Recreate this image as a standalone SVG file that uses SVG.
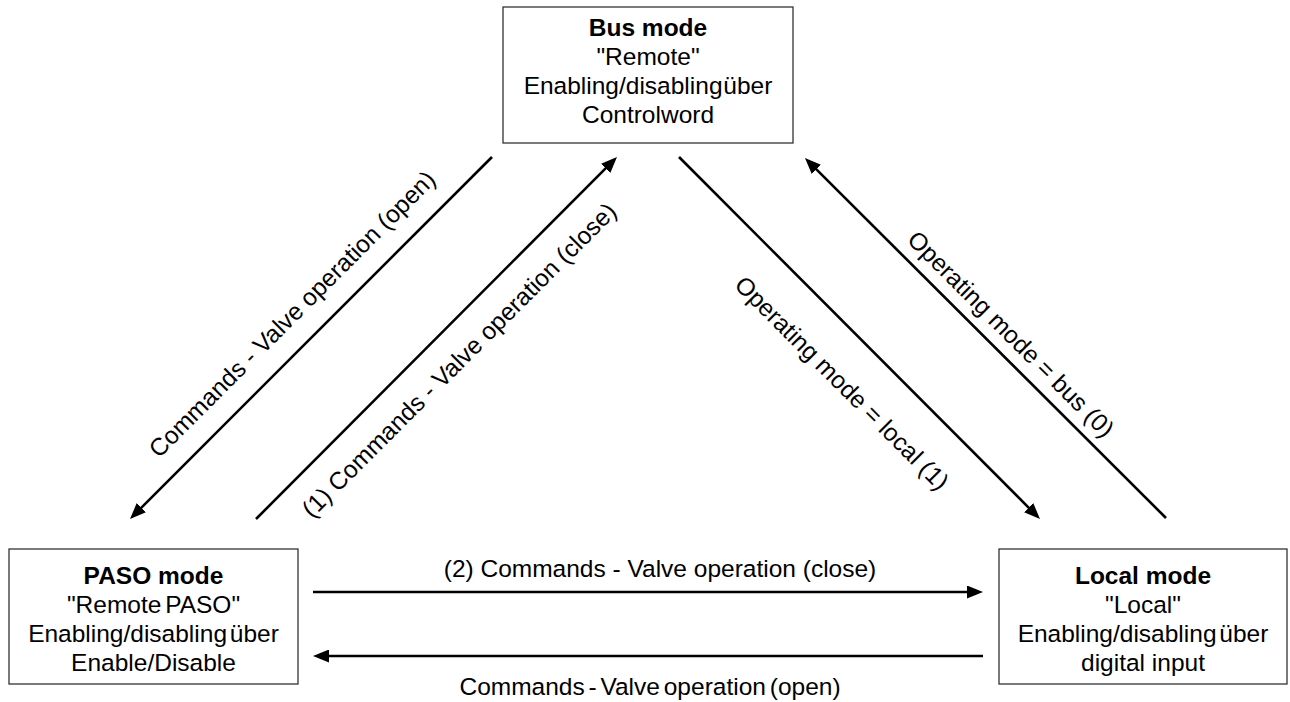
<svg xmlns="http://www.w3.org/2000/svg" width="1290" height="702" viewBox="0 0 1290 702">
  <style>
    .box { fill: #ffffff; stroke: #333333; stroke-width: 1.3; }
    .t { font-family: "Liberation Sans", Arial, sans-serif; font-size: 24.5px; fill: #000000; text-anchor: middle; }
    .b { font-weight: bold; }
    .tight { word-spacing: -6px; }
    .mid { word-spacing: -4px; }
    .semi { word-spacing: -3px; }
    .conn { stroke: #000000; stroke-width: 2.6; fill: none; marker-end: url(#arrow); }
  </style>
  <defs>
    <marker id="arrow" markerUnits="userSpaceOnUse" markerWidth="17" markerHeight="13" refX="2" refY="6.5" orient="auto">
      <path d="M0,0 L16,6.5 L0,13 z" fill="#000000"/>
    </marker>
  </defs>
  <rect width="1290" height="702" fill="#ffffff"/>

  <g id="node-bus">
    <rect class="box" x="503" y="7" width="290" height="136"/>
    <text class="t b" x="648" y="36">Bus mode</text>
    <text class="t" x="648" y="65">"Remote"</text>
    <text class="t tight" x="648" y="94">Enabling/disabling über</text>
    <text class="t" x="648" y="123">Controlword</text>
  </g>

  <g id="node-paso">
    <rect class="box" x="9" y="549" width="289" height="135"/>
    <text class="t b" x="153.5" y="584">PASO mode</text>
    <text class="t semi" x="153.5" y="613">"Remote PASO"</text>
    <text class="t mid" x="153.5" y="642">Enabling/disabling über</text>
    <text class="t" x="153.5" y="671">Enable/Disable</text>
  </g>

  <g id="node-local">
    <rect class="box" x="999" y="549" width="288" height="135"/>
    <text class="t b" x="1143" y="584">Local mode</text>
    <text class="t" x="1143" y="613">"Local"</text>
    <text class="t mid" x="1143" y="642">Enabling/disabling über</text>
    <text class="t" x="1143" y="671">digital input</text>
  </g>

  <g id="connectors">
    <line class="conn" x1="492" y1="157" x2="139.9" y2="509.1"/>
    <line class="conn" x1="256" y1="519" x2="607.1" y2="166.9"/>
    <line class="conn" x1="679" y1="157" x2="1030.1" y2="509.1"/>
    <line class="conn" x1="1166" y1="518" x2="814.9" y2="167.9"/>
    <line class="conn" x1="313" y1="592" x2="969" y2="592"/>
    <line class="conn" x1="983" y1="656" x2="327" y2="656"/>

    <text class="t" x="298" y="320" transform="rotate(-45 298 320)">Commands - Valve operation (open)</text>
    <text class="t" x="465" y="366" transform="rotate(-45 465 366)">(1) Commands - Valve operation (close)</text>
    <text class="t" x="836" y="389" transform="rotate(45 836 389)">Operating mode = local (1)</text>
    <text class="t" x="1005" y="340" transform="rotate(45 1005 340)">Operating mode = bus (0)</text>
    <text class="t" x="660" y="577">(2) Commands - Valve operation (close)</text>
    <text class="t semi" x="650" y="695">Commands - Valve operation (open)</text>
  </g>
</svg>
